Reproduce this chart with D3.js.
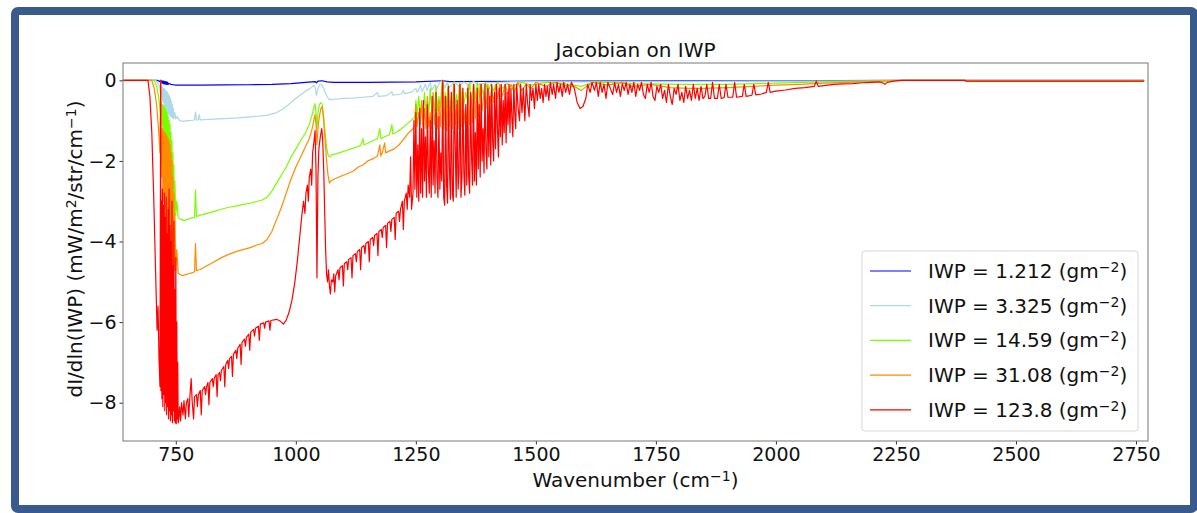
<!DOCTYPE html>
<html>
<head>
<meta charset="utf-8">
<script src="https://cdn.jsdelivr.net/npm/d3@7"></script>
<style>
  body { margin: 0; background: #fff; overflow: hidden; }
  svg { display: block; }
</style>
</head>
<body>
<div id="chart"></div>
<script>
// legend values and colours (same order as plotted)
const iwpLabels = ['1.212', '3.325', '14.59', '31.08', '123.8'];
const iwpColors = ['#0000ff', '#add8e6', '#7cfc00', '#ff8c00', '#ff0000'];

const xTicks = [750, 1000, 1250, 1500, 1750, 2000, 2250, 2500, 2750];
const yTicks = [0, -2, -4, -6, -8];

// [wavenumber, dI/dln(IWP)]
const iwp1212 = [
  [640,0],[712,0],[716,-0.03],[718,0],[720,-0.06],[721,-0.01],[722,-0.07],[723,-0.02],[724,-0.08],
  [725,-0.02],[726,-0.09],[727,-0.03],[728,-0.09],[729,-0.03],[730,-0.1],[731,-0.04],[732,-0.1],
  [733,-0.05],[734,-0.1],[736,-0.08],[740,-0.1],[745,-0.11],[750,-0.12],[770,-0.12],
  [800,-0.12],[850,-0.115],[900,-0.11],[950,-0.1],[990,-0.08],[1020,-0.05],[1040,-0.03],[1043,-0.06],
  [1046,-0.02],[1055,-0.01],[1065,-0.04],[1080,-0.05],[1150,-0.05],[1250,-0.04],[1306,-0.01],
  [1320,-0.03],[1500,-0.02],[2000,-0.01],[2260,0],[2767,0]
];

const iwp3325 = [
  [640,0],[708,0],[712,-0.05],[716,-0.15],[718,-0.3],[719,-0.12],[720,-0.4],[721,-0.15],[722,-0.5],
  [723,-0.18],[724,-0.55],[725,-0.2],[726,-0.62],[727,-0.22],[728,-0.68],[729,-0.25],[730,-0.72],
  [731,-0.28],[732,-0.78],[733,-0.3],[734,-0.82],[735,-0.35],[736,-0.85],[737,-0.4],[738,-0.88],
  [739,-0.45],[740,-0.9],[741,-0.52],[742,-0.92],[743,-0.6],[744,-0.94],[745,-0.7],[746,-0.95],
  [748,-0.8],[750,-0.96],[753,-0.9],[758,-1.0],[765,-1.02],[775,-1.0],[785,-0.99],
  [789,-0.98],[791,-0.78],[793,-0.98],[797,-0.98],[799,-0.85],[801,-0.98],[820,-0.97],[850,-0.95],
  [880,-0.93],[910,-0.9],[940,-0.87],[960,-0.8],[975,-0.7],[990,-0.55],[1005,-0.4],[1020,-0.27],
  [1030,-0.2],[1037,-0.13],[1040,-0.15],[1043,-0.38],[1046,-0.2],[1050,-0.1],[1054,-0.12],
  [1058,-0.2],[1062,-0.32],[1066,-0.42],[1070,-0.48],[1080,-0.47],[1100,-0.45],[1120,-0.44],
  [1140,-0.42],[1160,-0.4],[1170,-0.3],[1172,-0.4],[1190,-0.38],[1200,-0.28],[1202,-0.37],
  [1220,-0.34],[1224,-0.25],[1226,-0.33],[1240,-0.3],[1250,-0.2],[1253,-0.3],[1260,-0.12],
  [1263,-0.28],[1270,-0.1],[1273,-0.25],[1280,-0.05],[1283,-0.25],[1290,-0.1],[1293,-0.22],
  [1300,-0.05],[1306,0],[1310,-0.2],[1315,-0.05],[1320,-0.18],[1330,-0.04],[1340,-0.15],
  [1350,-0.04],[1360,-0.12],[1370,-0.03],[1380,-0.1],[1400,-0.06],[1450,-0.04],[1500,-0.03],
  [1600,-0.04],[1800,-0.03],[2000,-0.02],[2200,-0.01],[2260,0],[2767,0]
];

const iwp1459 = [
  [640,0],[705,0],[710,-0.15],[714,-0.4],[717,-0.7],[719,-0.9],[720,-0.55],[721,-1.1],[722,-0.6],
  [723,-1.4],[724,-0.62],[725,-1.7],[726,-0.65],[727,-1.9],[728,-0.7],[729,-2.1],[730,-0.75],
  [731,-2.3],[732,-0.8],[733,-2.5],[734,-0.9],[735,-2.7],[736,-1.0],[737,-2.85],[738,-1.1],
  [739,-3.0],[740,-1.3],[741,-3.1],[742,-1.5],[743,-3.2],[744,-1.8],[745,-3.25],[746,-2.1],
  [747,-3.3],[748,-2.5],[750,-3.35],[752,-3.0],[755,-3.4],[760,-3.45],[768,-3.48],[775,-3.45],
  [782,-3.42],[789,-3.4],[791,-2.72],[793,-3.38],[800,-3.35],[815,-3.3],[830,-3.25],[845,-3.2],
  [860,-3.15],[875,-3.12],[890,-3.08],[905,-3.05],[920,-3.0],[930,-2.97],[940,-2.9],[950,-2.75],
  [960,-2.55],[970,-2.35],[980,-2.15],[990,-1.9],[1000,-1.7],[1010,-1.5],[1020,-1.3],[1028,-1.1],
  [1034,-0.85],[1038,-0.65],[1040,-0.58],[1042,-0.8],[1044,-1.2],[1046,-0.8],[1049,-0.6],
  [1052,-0.55],[1055,-0.6],[1058,-0.9],[1061,-1.3],[1064,-1.65],[1067,-1.85],[1070,-1.9],
  [1075,-1.85],[1085,-1.82],[1095,-1.78],[1105,-1.74],[1115,-1.7],[1125,-1.66],[1135,-1.62],
  [1140,-1.45],[1142,-1.6],[1150,-1.56],[1160,-1.5],[1170,-1.45],[1175,-1.2],[1177,-1.45],
  [1185,-1.4],[1195,-1.35],[1200,-1.1],[1202,-1.33],[1210,-1.28],[1220,-1.2],[1230,-1.1],
  [1240,-1.0],[1244,-0.95],[1248,-0.9],[1250,-0.5],[1253,-0.85],[1256,-0.4],[1259,-0.85],
  [1262,-0.55],[1265,-0.8],[1268,-0.3],[1271,-0.85],[1274,-0.5],[1277,-0.8],[1280,-0.2],
  [1283,-0.8],[1286,-0.45],[1289,-0.75],[1292,-0.15],[1295,-0.75],[1298,-0.4],[1301,-0.7],
  [1304,-0.1],[1306,0],[1308,-0.75],[1311,-0.3],[1314,-0.7],[1317,-0.1],[1320,-0.7],[1323,-0.4],
  [1326,-0.7],[1329,-0.05],[1332,-0.65],[1335,-0.35],[1338,-0.7],[1341,-0.05],[1344,-0.65],
  [1347,-0.2],[1350,-0.6],[1354,-0.3],[1358,-0.55],[1362,-0.05],[1366,-0.5],[1370,-0.15],
  [1374,-0.45],[1378,-0.05],[1382,-0.4],[1386,-0.1],[1390,-0.35],[1395,-0.05],[1400,-0.3],
  [1406,-0.1],[1412,-0.25],[1420,-0.05],[1430,-0.2],[1440,-0.08],[1450,-0.15],[1470,-0.05],
  [1490,-0.12],[1520,-0.05],[1560,-0.08],[1595,-0.15],[1620,-0.04],[1700,-0.08],[1800,-0.1],
  [1900,-0.1],[2000,-0.07],[2100,-0.04],[2200,-0.02],[2260,0],[2393,0],[2396,-0.02],[2767,-0.02]
];

const iwp3108 = [
  [640,0],[700,0],[705,-0.2],[710,-0.6],[714,-1.2],[717,-1.8],[718.5,0],[719.5,-2.0],[720,-1.2],
  [721,-2.4],[722,-1.2],[723,-2.7],[724,-1.25],[725,-3.0],[726,-1.3],[727,-3.2],[728,-1.3],
  [729,-3.4],[730,-1.35],[731,-3.6],[732,-1.4],[733,-3.8],[734,-1.45],[735,-4.0],[736,-1.5],
  [737,-4.2],[738,-1.6],[739,-4.35],[740,-1.8],[741,-4.5],[742,-2.0],[743,-4.6],[744,-2.4],
  [745,-4.65],[746,-2.8],[747,-4.7],[748,-3.3],[750,-4.72],[752,-4.2],[755,-4.78],[759,-4.82],
  [764,-4.85],[770,-4.82],[777,-4.8],[784,-4.78],[789,-4.75],[791,-4.05],[793,-4.72],[800,-4.7],
  [815,-4.6],[830,-4.5],[845,-4.4],[860,-4.32],[875,-4.25],[890,-4.2],[905,-4.15],[920,-4.08],
  [930,-4.05],[940,-3.95],[950,-3.75],[960,-3.45],[970,-3.15],[980,-2.8],[990,-2.45],[1000,-2.15],
  [1010,-1.9],[1020,-1.65],[1028,-1.45],[1034,-1.2],[1038,-0.95],[1040,-0.85],[1042,-1.1],
  [1044,-1.6],[1046,-1.2],[1049,-0.9],[1052,-0.7],[1055,-0.65],[1058,-1.0],[1061,-1.5],
  [1064,-2.0],[1067,-2.35],[1070,-2.55],[1073,-2.5],[1080,-2.45],[1090,-2.4],[1100,-2.35],
  [1110,-2.3],[1120,-2.25],[1130,-2.15],[1140,-2.1],[1150,-2.0],[1160,-1.95],[1170,-1.88],
  [1175,-1.6],[1177,-1.88],[1180,-1.8],[1185,-1.55],[1187,-1.8],[1195,-1.75],[1205,-1.7],
  [1215,-1.6],[1225,-1.45],[1235,-1.3],[1244,-1.2],[1248,-1.1],[1250,-0.6],[1252,-1.15],
  [1256,-0.8],[1259,-1.1],[1262,-0.5],[1265,-1.15],[1268,-0.7],[1271,-1.2],[1274,-0.4],
  [1277,-1.15],[1280,-0.8],[1283,-1.2],[1286,-0.3],[1289,-1.1],[1292,-0.7],[1295,-1.2],
  [1298,-0.5],[1301,-1.15],[1304,-0.2],[1306,0],[1308,-1.2],[1311,-0.4],[1314,-1.25],[1317,-0.2],
  [1320,-1.15],[1323,-0.5],[1326,-1.2],[1329,-0.1],[1332,-1.1],[1335,-0.6],[1338,-1.2],
  [1341,-0.1],[1344,-1.15],[1347,-0.3],[1350,-1.1],[1353,-0.7],[1356,-1.15],[1359,-0.1],
  [1362,-1.1],[1365,-0.4],[1368,-1.05],[1371,-0.1],[1374,-0.95],[1377,-0.3],[1380,-0.9],
  [1384,-0.1],[1388,-0.75],[1392,-0.3],[1396,-0.7],[1400,-0.1],[1404,-0.6],[1408,-0.2],
  [1412,-0.55],[1416,-0.1],[1420,-0.45],[1425,-0.1],[1430,-0.4],[1436,-0.1],[1442,-0.35],
  [1448,-0.1],[1455,-0.3],[1462,-0.05],[1470,-0.25],[1480,-0.1],[1490,-0.2],[1500,-0.05],
  [1520,-0.15],[1540,-0.05],[1560,-0.12],[1580,-0.15],[1595,-0.25],[1605,-0.15],[1620,-0.05],
  [1650,-0.12],[1680,-0.05],[1700,-0.15],[1740,-0.1],[1780,-0.18],[1820,-0.2],[1850,-0.2],
  [1900,-0.18],[1950,-0.15],[2000,-0.12],[2050,-0.1],[2100,-0.07],[2150,-0.05],[2200,-0.03],
  [2250,-0.01],[2270,0],[2393,0],[2396,-0.02],[2767,-0.02]
];

const iwp1238 = [
  [640,0],[692,0],[696,-0.4],[700,-1.3],[704,-2.9],[708,-4.8],[711,-6.2],[713,-5.6],[715,-6.9],
  [717,-7.6],[718.5,0],[719,-7.7],[720,-3.0],[721,-7.9],[722,-2.7],[723,-8.1],[724,-3.1],
  [725,-7.8],[726,-2.8],[727,-8.2],[728,-3.4],[729,-8.0],[730,-2.9],[731,-8.3],[732,-3.8],
  [733,-8.1],[734,-3.2],[735,-8.4],[736,-2.7],[737,-8.2],[738,-3.6],[739,-8.45],[740,-4.0],
  [741,-8.3],[742,-3.0],[743,-8.5],[744,-4.6],[745,-8.2],[746,-3.5],[747,-8.45],[748,-5.2],
  [749,-8.5],[750,-4.4],[751,-8.52],[752,-6.0],[753,-8.4],[754,-7.0],[755,-8.5],
  [756,-8.4],[758,-8.1],[760,-8.45],[762,-8.0],[765,-8.3],[767,-7.95],[770,-8.4],[772,-8.0],
  [775,-7.9],[777,-8.35],[779,-7.9],[782,-7.4],[784,-7.95],[787,-8.4],[789,-7.85],[793,-7.8],
  [795,-8.1],[797,-7.8],[801,-7.7],[803,-8.3],[805,-7.7],[810,-7.6],[812,-7.8],[814,-7.6],
  [817,-7.5],[819,-8.05],[821,-7.5],[826,-7.4],[828,-7.6],[830,-7.4],[834,-7.3],[836,-7.85],
  [838,-7.3],[841,-7.25],[843,-7.45],[845,-7.2],[850,-7.1],[852,-7.6],[854,-7.05],[858,-6.95],
  [860,-7.15],[862,-6.9],[866,-6.85],[868,-7.35],[870,-6.8],[875,-6.7],[877,-6.9],[879,-6.65],
  [884,-6.55],[886,-7.05],[888,-6.5],[893,-6.42],[895,-6.6],[897,-6.38],[902,-6.3],[904,-6.7],
  [906,-6.25],[912,-6.18],[914,-6.35],[916,-6.15],[922,-6.1],[924,-6.45],[926,-6.05],
  [933,-6.02],[935,-6.15],[937,-6.0],[944,-5.97],[946,-6.2],[948,-5.96],[960,-5.93],
  [968,-5.98],[974,-6.05],[980,-5.95],[986,-5.75],[992,-5.45],
  [998,-5.0],[1003,-4.5],[1008,-3.9],[1012,-3.4],[1016,-3.0],[1019,-3.3],[1021,-2.8],[1024,-2.6],
  [1026,-3.0],[1028,-2.4],[1031,-2.2],[1033,-2.6],[1035,-1.8],[1038,-1.5],[1040,-1.25],[1042,-2.2],
  [1044,-4.9],[1046,-2.4],[1048,-1.7],[1051,-1.4],[1054,-1.2],[1056,-1.5],[1058,-2.2],[1060,-3.2],
  [1062,-4.2],[1064,-4.8],[1066,-5.0],[1068,-4.7],[1070,-5.1],[1072,-5.3],[1074,-4.95],[1077,-5.0],
  [1079,-4.8],[1081,-5.25],[1083,-4.85],[1088,-4.7],[1090,-4.95],[1092,-4.65],[1097,-4.6],
  [1099,-5.1],[1101,-4.55],[1106,-4.5],[1108,-4.7],[1110,-4.45],[1115,-4.4],[1117,-4.9],
  [1119,-4.35],[1124,-4.3],[1126,-4.5],[1128,-4.25],[1133,-4.2],[1135,-4.7],[1137,-4.15],
  [1142,-4.1],[1144,-4.3],[1146,-4.05],[1151,-4.0],[1153,-4.5],[1155,-3.95],[1160,-3.9],
  [1162,-4.1],[1164,-3.85],[1169,-3.8],[1171,-4.35],[1173,-3.75],[1178,-3.7],[1180,-3.9],
  [1182,-3.65],[1187,-3.6],[1189,-4.15],[1191,-3.55],[1196,-3.5],[1198,-3.75],[1200,-3.45],
  [1205,-3.4],[1207,-3.95],[1209,-3.3],[1214,-3.25],[1216,-3.5],[1218,-3.2],[1222,-3.0],
  [1224,-3.7],[1226,-3.0],[1230,-2.8],[1232,-3.2],[1234,-2.6],[1237,-2.9],[1239,-1.9],[1241,-3.2],
  [1244,-2.8],[1246,-1.0],[1248,-2.7],[1250,-0.8],[1252,-2.9],[1254,-1.6],[1256,-3.0],[1258,-0.7],
  [1260,-2.8],[1262,-1.2],[1264,-2.9],[1266,-0.5],[1268,-2.5],[1270,-1.4],[1272,-2.9],[1274,-0.6],
  [1276,-2.2],[1278,-2.8],[1280,-1.0],[1282,-2.9],[1284,-0.4],[1286,-2.6],[1288,-1.5],[1290,-2.8],
  [1292,-0.3],[1294,-2.4],[1296,-2.9],[1298,-0.9],[1300,-2.7],[1302,-1.8],[1304,-2.5],[1306,0],
  [1308,-2.9],[1310,-3.1],[1312,-0.4],[1314,-2.6],[1316,-3.05],[1318,-0.15],[1320,-2.2],
  [1322,-2.95],[1324,-0.3],[1326,-2.8],[1328,-3.0],[1330,-0.1],[1332,-1.6],[1334,-2.9],[1336,-0.5],
  [1338,-2.7],[1340,-2.2],[1342,-0.1],[1344,-2.9],[1346,-2.4],[1348,-0.2],[1350,-2.3],[1352,-2.85],
  [1354,-0.6],[1356,-2.6],[1358,-0.2],[1360,-2.4],[1362,-2.8],[1364,-0.3],[1366,-1.9],[1368,-2.6],
  [1370,-0.1],[1372,-2.5],[1374,-1.3],[1376,-2.6],[1378,-0.2],[1380,-2.2],[1382,-0.6],[1384,-2.4],
  [1386,-0.1],[1388,-2.0],[1390,-1.2],[1392,-2.3],[1394,-0.1],[1396,-1.7],[1398,-2.2],[1400,-0.2],
  [1402,-1.9],[1404,-0.4],[1406,-2.1],[1408,-0.1],[1410,-1.5],[1412,-2.0],[1414,-0.3],[1416,-1.7],
  [1418,-0.1],[1420,-1.2],[1422,-1.9],[1424,-0.2],[1426,-1.4],[1428,-0.1],[1430,-1.6],[1432,-0.5],
  [1434,-1.3],[1436,-0.1],[1438,-1.55],[1440,-0.3],[1442,-1.1],[1444,-0.1],[1446,-1.3],[1448,-0.2],
  [1450,-0.9],[1452,-1.4],[1454,-0.1],[1456,-0.8],[1458,-1.2],[1460,-0.1],[1463,-0.7],[1466,-1.0],
  [1468,-0.1],[1471,-0.8],[1474,-0.2],[1477,-1.0],[1480,-0.1],[1483,-0.6],[1486,-0.9],[1488,-0.1],
  [1491,-0.5],[1494,-0.2],[1497,-0.7],[1500,-0.1],[1503,-0.5],[1506,-0.1],[1509,-0.45],[1512,-0.2],
  [1515,-0.55],[1518,-0.1],[1521,-0.4],[1524,-0.15],[1527,-0.5],[1530,-0.05],[1534,-0.35],
  [1537,-0.1],[1541,-0.45],[1544,-0.05],[1548,-0.3],[1551,-0.1],[1555,-0.4],[1558,-0.05],
  [1562,-0.3],[1566,-0.1],[1570,-0.35],[1574,-0.05],[1580,-0.2],[1586,-0.55],[1592,-0.7],
  [1598,-0.65],[1604,-0.45],[1608,-0.1],[1613,-0.3],[1617,-0.05],[1622,-0.25],[1626,-0.05],
  [1630,-0.4],[1634,-0.05],[1638,-0.3],[1642,-0.1],[1646,-0.45],[1650,-0.05],[1655,-0.2],
  [1660,-0.35],[1664,-0.05],[1668,-0.3],[1672,-0.1],[1676,-0.4],[1680,-0.08],[1684,-0.25],
  [1688,-0.05],[1692,-0.35],[1696,-0.1],[1700,-0.3],[1704,-0.05],[1708,-0.4],[1712,-0.1],
  [1716,-0.25],[1720,-0.05],[1724,-0.35],[1728,-0.45],[1732,-0.1],[1736,-0.3],[1740,-0.05],
  [1744,-0.4],[1748,-0.5],[1752,-0.15],[1756,-0.3],[1760,-0.1],[1764,-0.45],[1768,-0.25],
  [1772,-0.55],[1776,-0.1],[1780,-0.4],[1784,-0.6],[1788,-0.2],[1792,-0.35],[1796,-0.1],
  [1800,-0.5],[1804,-0.3],[1808,-0.55],[1812,-0.15],[1816,-0.45],[1820,-0.25],[1824,-0.5],
  [1828,-0.1],[1832,-0.45],[1836,-0.2],[1840,-0.5],[1844,-0.15],[1848,-0.45],[1852,-0.4],
  [1856,-0.1],[1860,-0.45],[1864,-0.45],[1868,-0.05],[1872,-0.45],[1878,-0.45],[1882,-0.1],
  [1886,-0.45],[1892,-0.43],[1896,-0.1],[1900,-0.42],[1910,-0.42],[1914,-0.05],[1918,-0.42],
  [1930,-0.4],[1934,-0.1],[1938,-0.4],[1950,-0.37],[1954,-0.1],[1958,-0.36],[1970,-0.34],
  [1980,-0.3],[1984,-0.05],[1988,-0.3],[2000,-0.27],[2020,-0.24],[2040,-0.2],[2060,-0.18],
  [2080,-0.15],[2084,-0.02],[2088,-0.15],[2100,-0.13],[2120,-0.1],[2140,-0.09],[2160,-0.08],
  [2180,-0.06],[2200,-0.05],[2215,-0.04],[2222,-0.06],[2227,-0.1],[2232,-0.05],[2245,-0.02],
  [2260,0],[2393,0],[2396,-0.02],[2500,-0.02],[2767,-0.02]
];

const allSeries = [iwp1212, iwp3325, iwp1459, iwp3108, iwp1238];

const width = 1197;
const height = 513;
const margin = { top: 63, right: 49, bottom: 72, left: 123 };
const innerWidth = width - margin.left - margin.right;
const innerHeight = height - margin.top - margin.bottom;
const font = 'DejaVu Sans, sans-serif';

const svg = d3
  .select('#chart')
  .append('svg')
  .attr('width', width)
  .attr('height', height)
  .attr('font-family', font);

// blue frame round the figure
svg.append('rect')
  .attr('x', 15)
  .attr('y', 11)
  .attr('width', 1179)
  .attr('height', 498)
  .attr('rx', 3)
  .attr('fill', 'none')
  .attr('stroke', '#385a8c')
  .attr('stroke-width', 8);

const g = svg.append('g')
  .attr('transform', `translate(${margin.left}, ${margin.top})`);

const x = d3.scaleLinear().domain([640, 2775]).range([0, innerWidth]);
const y = d3.scaleLinear().domain([-8.95, 0.43]).range([innerHeight, 0]);

g.append('defs').append('clipPath').attr('id', 'clip')
  .append('rect').attr('width', innerWidth).attr('height', innerHeight);

const line = d3.line()
  .x(d => x(d[0]))
  .y(d => y(d[1]));

g.append('g')
  .attr('clip-path', 'url(#clip)')
  .selectAll('path')
  .data(allSeries)
  .enter()
  .append('path')
  .attr('d', line)
  .attr('fill', 'none')
  .attr('stroke', (d, i) => iwpColors[i])
  .attr('stroke-width', 1.2)
  .attr('stroke-linejoin', 'round');

// axes
const xAxis = g.append('g')
  .attr('transform', `translate(0, ${innerHeight})`)
  .call(d3.axisBottom(x).tickValues(xTicks).tickSize(3.5).tickPadding(3).tickFormat(d3.format('d')));

const yAxis = g.append('g')
  .call(d3.axisLeft(y).tickValues(yTicks).tickSize(3.5).tickPadding(3).tickFormat(d3.format('d')));

[xAxis, yAxis].forEach(ax => {
  ax.attr('font-size', 19).attr('font-family', font);
  ax.select('.domain').remove();
  ax.selectAll('line').attr('stroke', '#333');
  ax.selectAll('text').attr('fill', '#111');
});
// centre the x labels on their own middle, as the y labels are
xAxis.selectAll('text').attr('y', 14).attr('dy', '0.32em');

// frame of the axes
g.append('rect')
  .attr('width', innerWidth)
  .attr('height', innerHeight)
  .attr('fill', 'none')
  .attr('stroke', '#777')
  .attr('stroke-width', 1);

// text with a raised exponent: parts = [before, exponent, after, exponent, after ...]
function withExponents(sel, parts) {
  parts.forEach((p, i) => {
    const t = sel.append('tspan').text(p);
    if (i % 2 === 1) {
      t.attr('font-size', 14).attr('baseline-shift', '40%');
    }
  });
}

// title and axis labels
svg.append('text')
  .attr('x', margin.left + innerWidth / 2)
  .attr('y', 50.5)
  .attr('dy', '0.32em')
  .attr('text-anchor', 'middle')
  .attr('font-size', 20)
  .attr('fill', '#111')
  .text('Jacobian on IWP');

const xLabel = svg.append('text')
  .attr('x', margin.left + innerWidth / 2)
  .attr('y', 480.6)
  .attr('dy', '0.32em')
  .attr('text-anchor', 'middle')
  .attr('font-size', 20)
  .attr('fill', '#111');
withExponents(xLabel, ['Wavenumber (cm', '−1', ')']);

const yLabel = svg.append('text')
  .attr('transform', `translate(75.6, ${margin.top + innerHeight / 2 - 3}) rotate(-90)`)
  .attr('dy', '0.32em')
  .attr('text-anchor', 'middle')
  .attr('font-size', 20)
  .attr('fill', '#111');
withExponents(yLabel, ['dI/dln(IWP) (mW/m', '2', '/str/cm', '−1', ')']);

// legend
const legendX = 862;
const legendY = 251;
svg.append('rect')
  .attr('x', legendX)
  .attr('y', legendY)
  .attr('width', 276)
  .attr('height', 180)
  .attr('rx', 3)
  .attr('fill', '#fff')
  .attr('fill-opacity', 0.8)
  .attr('stroke', '#d6d6d6');

const legend = svg.selectAll('.legend')
  .data(iwpLabels)
  .enter()
  .append('g')
  .attr('class', 'legend')
  .attr('transform', (d, i) => `translate(${legendX}, ${legendY + 20 + i * 34.7})`);

legend.append('line')
  .attr('x1', 8)
  .attr('x2', 49)
  .attr('stroke', (d, i) => iwpColors[i])
  .attr('stroke-width', 1.2);

legend.append('text')
  .attr('x', 66)
  .attr('y', 0.6)
  .attr('dy', '0.32em')
  .attr('font-size', 20)
  .attr('fill', '#111')
  .each(function(d) {
    withExponents(d3.select(this), [`IWP = ${d} (gm`, '−2', ')']);
  });
</script>
</body>
</html>
